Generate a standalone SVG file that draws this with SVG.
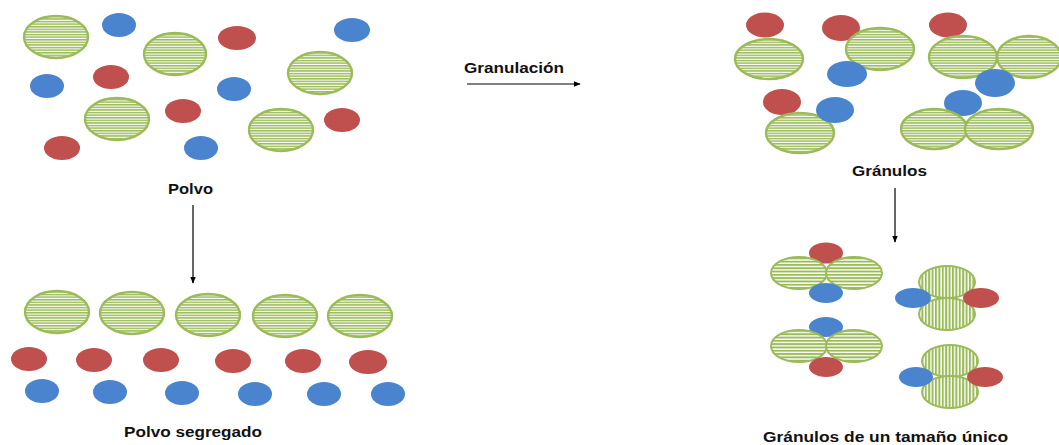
<svg xmlns="http://www.w3.org/2000/svg" width="1059" height="445" viewBox="0 0 1059 445">
  <defs>
    <pattern id="hstripe" patternUnits="userSpaceOnUse" width="8" height="2.6">
      <rect width="8" height="2.6" fill="#ffffff"/>
      <rect y="0" width="8" height="1.5" fill="#9bbb59"/>
    </pattern>
    <pattern id="hstripe-wide" patternUnits="userSpaceOnUse" width="8" height="3.3">
      <rect width="8" height="3.3" fill="#ffffff"/>
      <rect y="0" width="8" height="1.9" fill="#9bbb59"/>
    </pattern>
    <pattern id="vstripe" patternUnits="userSpaceOnUse" width="3.4" height="8">
      <rect width="3.4" height="8" fill="#ffffff"/>
      <rect x="0" width="2" height="8" fill="#9bbb59"/>
    </pattern>
    <marker id="arrow" viewBox="0 0 10 10" refX="9" refY="5" markerWidth="7" markerHeight="7" orient="auto" markerUnits="userSpaceOnUse">
      <path d="M0,1 L10,5 L0,9 Z" fill="#000"/>
    </marker>
  </defs>
  <style>
    .g { fill: url(#hstripe); stroke: #9bbb59; stroke-width: 2.4; }
    .gw { fill: url(#hstripe-wide); stroke: #9bbb59; stroke-width: 2; }
    .gv { fill: url(#vstripe); stroke: #9bbb59; stroke-width: 2; }
    .b { fill: #4a84ce; }
    .r { fill: #c0504d; }
    .lbl { font-family: "Liberation Sans", Arial, sans-serif; font-weight: bold; font-size: 14px; fill: #111; }
    .conn { stroke: #000; stroke-width: 1.2; fill: none; marker-end: url(#arrow); }
  </style>

  <rect width="1059" height="445" fill="#ffffff"/>

  <!-- loose powder -->
  <g id="polvo">
    <ellipse class="g" cx="56" cy="37" rx="32" ry="21"/>
    <ellipse class="g" cx="175" cy="54" rx="31" ry="21"/>
    <ellipse class="g" cx="320" cy="73" rx="32" ry="21"/>
    <ellipse class="g" cx="117" cy="119" rx="32" ry="21"/>
    <ellipse class="g" cx="281" cy="130" rx="32" ry="21"/>
    <ellipse class="b" cx="119" cy="25" rx="17" ry="12"/>
    <ellipse class="b" cx="352" cy="30" rx="18" ry="12"/>
    <ellipse class="b" cx="47" cy="86" rx="17" ry="12"/>
    <ellipse class="b" cx="234" cy="89" rx="17" ry="12"/>
    <ellipse class="b" cx="201" cy="148" rx="17" ry="12"/>
    <ellipse class="r" cx="237" cy="38" rx="19" ry="12"/>
    <ellipse class="r" cx="111" cy="77" rx="18" ry="12"/>
    <ellipse class="r" cx="183" cy="111" rx="18" ry="12"/>
    <ellipse class="r" cx="342" cy="120" rx="18" ry="12"/>
    <ellipse class="r" cx="62" cy="148" rx="18" ry="12"/>
    <text class="lbl" x="168" y="194" textLength="45" lengthAdjust="spacingAndGlyphs">Polvo</text>
  </g>

  <!-- segregated powder -->
  <g id="polvo-segregado">
    <ellipse class="g" cx="57" cy="312" rx="32" ry="21"/>
    <ellipse class="g" cx="132" cy="313" rx="32" ry="21"/>
    <ellipse class="g" cx="208" cy="315" rx="32" ry="21"/>
    <ellipse class="g" cx="285" cy="316" rx="32" ry="21"/>
    <ellipse class="g" cx="360" cy="316" rx="32" ry="21"/>
    <ellipse class="r" cx="29" cy="359" rx="18" ry="12"/>
    <ellipse class="r" cx="94" cy="360" rx="18" ry="12"/>
    <ellipse class="r" cx="161" cy="360" rx="18" ry="12"/>
    <ellipse class="r" cx="233" cy="361" rx="18" ry="12"/>
    <ellipse class="r" cx="303" cy="361" rx="18" ry="12"/>
    <ellipse class="r" cx="368" cy="362" rx="19" ry="12"/>
    <ellipse class="b" cx="42" cy="391" rx="17" ry="12"/>
    <ellipse class="b" cx="110" cy="392" rx="17" ry="12"/>
    <ellipse class="b" cx="182" cy="393" rx="17" ry="12"/>
    <ellipse class="b" cx="255" cy="394" rx="17" ry="12"/>
    <ellipse class="b" cx="324" cy="394" rx="17" ry="12"/>
    <ellipse class="b" cx="388" cy="394" rx="17" ry="12"/>
    <text class="lbl" x="124" y="437" textLength="138" lengthAdjust="spacingAndGlyphs">Polvo segregado</text>
  </g>

  <!-- granules -->
  <g id="granulos">
    <ellipse class="r" cx="765" cy="25" rx="19" ry="12.5"/>
    <ellipse class="g" cx="769" cy="59" rx="34" ry="20"/>
    <ellipse class="r" cx="841" cy="28" rx="19" ry="13"/>
    <ellipse class="g" cx="880" cy="49" rx="34" ry="21"/>
    <ellipse class="b" cx="847" cy="74" rx="20" ry="13"/>
    <ellipse class="r" cx="782" cy="102" rx="19" ry="13"/>
    <ellipse class="g" cx="800" cy="133" rx="34" ry="20"/>
    <ellipse class="b" cx="835" cy="110" rx="19" ry="13"/>
    <ellipse class="r" cx="948" cy="25" rx="19" ry="12.5"/>
    <ellipse class="g" cx="963" cy="57" rx="34" ry="21"/>
    <ellipse class="g" cx="1029" cy="57" rx="32" ry="21"/>
    <ellipse class="b" cx="995" cy="83" rx="20" ry="14"/>
    <ellipse class="b" cx="963" cy="103" rx="19" ry="13"/>
    <ellipse class="g" cx="934" cy="129" rx="33" ry="20"/>
    <ellipse class="g" cx="999" cy="129" rx="34" ry="20"/>
    <text class="lbl" x="852" y="176" textLength="75" lengthAdjust="spacingAndGlyphs">Gránulos</text>
  </g>

  <!-- uniform-size granules -->
  <g id="granulos-uniformes">
    <ellipse class="r" cx="826" cy="253" rx="17" ry="10.5"/>
    <ellipse class="gw" cx="799" cy="273" rx="28" ry="16"/>
    <ellipse class="gw" cx="854" cy="273" rx="28" ry="16"/>
    <ellipse class="b" cx="826" cy="293" rx="17" ry="10"/>

    <ellipse class="gv" cx="947" cy="282" rx="28" ry="16"/>
    <ellipse class="gv" cx="947" cy="314" rx="28" ry="16"/>
    <ellipse class="b" cx="913" cy="298" rx="18" ry="10"/>
    <ellipse class="r" cx="981" cy="298" rx="18" ry="10"/>

    <ellipse class="b" cx="826" cy="327" rx="17" ry="10"/>
    <ellipse class="gw" cx="799" cy="346" rx="28" ry="16"/>
    <ellipse class="gw" cx="854" cy="346" rx="28" ry="16"/>
    <ellipse class="r" cx="826" cy="367" rx="17" ry="10"/>

    <ellipse class="gv" cx="950" cy="361" rx="28" ry="16"/>
    <ellipse class="gv" cx="950" cy="392" rx="28" ry="16"/>
    <ellipse class="b" cx="916" cy="377" rx="17" ry="10"/>
    <ellipse class="r" cx="985" cy="377" rx="18" ry="10"/>
    <text class="lbl" x="763" y="442" textLength="245" lengthAdjust="spacingAndGlyphs">Gránulos de un tamaño único</text>
  </g>

  <!-- process arrows -->
  <g id="connectors">
    <line class="conn" x1="193" y1="205" x2="193" y2="283"/>
    <line class="conn" x1="467" y1="84" x2="580" y2="84"/>
    <text class="lbl" x="464" y="73" textLength="100" lengthAdjust="spacingAndGlyphs">Granulación</text>
    <line class="conn" x1="895" y1="188" x2="895" y2="242"/>
  </g>
</svg>
